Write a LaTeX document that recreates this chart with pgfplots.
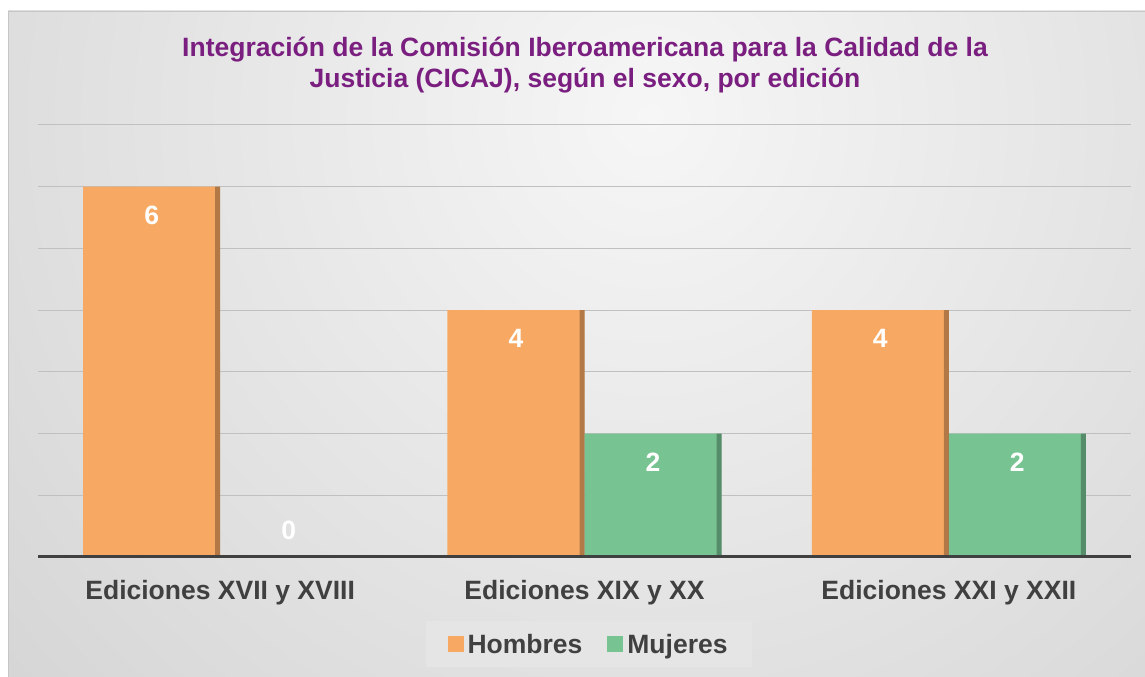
\documentclass[border=0pt]{standalone}
\usepackage{pgfplots}
\pgfplotsset{compat=1.18}
\usepackage{fontspec}
\setmainfont{Liberation Sans}
\definecolor{titlep}{RGB}{122,31,128}
\definecolor{txt}{RGB}{64,64,64}
\definecolor{hom}{RGB}{247,169,99}
\definecolor{muj}{RGB}{119,195,146}
\definecolor{gridc}{RGB}{192,192,192}
\newcommand\f{\fontsize{26.5bp}{31bp}\selectfont\bfseries}
\begin{document}
\begin{tikzpicture}[x=1bp,y=1bp]
\useasboundingbox (0,0) rectangle (1145,677);
\begin{scope}
  \clip (8,0) rectangle (1145,666);
  \shade[inner color={rgb,255:red,246;green,246;blue,246},
         outer color={rgb,255:red,178;green,178;blue,178}] (650,560) circle (1800);
\end{scope}
\draw[gray!45] (8,0) -- (8,666) -- (1145,666);
\node[font=\f, text=titlep, anchor=base] at (585,620.5)
  {Integración de la Comisión Iberoamericana para la Calidad de la};
\node[font=\f, text=titlep, anchor=base] at (585,589.5)
  {Justicia (CICAJ), según el sexo, por edición};
\begin{axis}[
    at={(38bp,120bp)}, anchor=south west,
    scale only axis, width=1093bp, height=432bp,
    xmin=-0.5, xmax=2.5, ymin=0, ymax=7,
    ybar, bar width=137bp, clip=false,
    axis line style={draw=none},
    major tick length=0pt,
    ytick={1,...,7}, yticklabels={},
    ymajorgrids, grid style={gridc, line width=1bp},
    xtick={0,1,2},
    xticklabels={Ediciones XVII y XVIII, Ediciones XIX y XX, Ediciones XXI y XXII},
    xticklabel style={font=\f, text=txt, anchor=base, yshift=-42.5bp},
    legend columns=2,
    legend style={at={(0.5037,-0.2014)}, anchor=center,
        fill={rgb,255:red,229;green,229;blue,229}, draw=none,
        font=\f, text=txt, inner xsep=22bp, inner ysep=5.5bp,
        nodes={inner sep=2bp, text height=25bp, text depth=6bp},
        /tikz/every even column/.append style={column sep=23bp}},
    legend image code/.code={\fill[#1, draw=none] (0bp,-8bp) rectangle (16bp,8bp);
        \path (18bp,0bp);},
    nodes near coords style={font=\f, text=white, anchor=base},
    point meta=explicit symbolic,
]
\addplot[fill=hom, draw=none, bar shift=-68.5bp,
    nodes near coords, every node near coord/.append style={yshift=-37.5bp}]
    coordinates {(0,6) [6] (1,4) [4] (2,4) [4]};
\addplot[fill=muj, draw=none, bar shift=68.5bp,
    nodes near coords, every node near coord/.append style={yshift=-37.5bp}]
    coordinates {(0,0) [] (1,2) [2] (2,2) [2]};
% dark right edge of the bevelled bars
\addplot[forget plot, draw=none, fill=black, fill opacity=0.28,
    bar width=5bp, bar shift=-2.5bp]
    coordinates {(0,6) (1,4) (2,4)};
\addplot[forget plot, draw=none, fill=black, fill opacity=0.28,
    bar width=5bp, bar shift=134.5bp]
    coordinates {(0,0) (1,2) (2,2)};
\addplot[forget plot, draw=none, fill=none, bar shift=68.5bp,
    nodes near coords, every node near coord/.append style={yshift=17.5bp}]
    coordinates {(0,0) [0]};
\addplot[forget plot, sharp plot, no marks, txt, line width=3bp]
    coordinates {(-0.5,0) (2.5,0)};
\legend{Hombres, Mujeres}
\end{axis}
\end{tikzpicture}
\end{document}
